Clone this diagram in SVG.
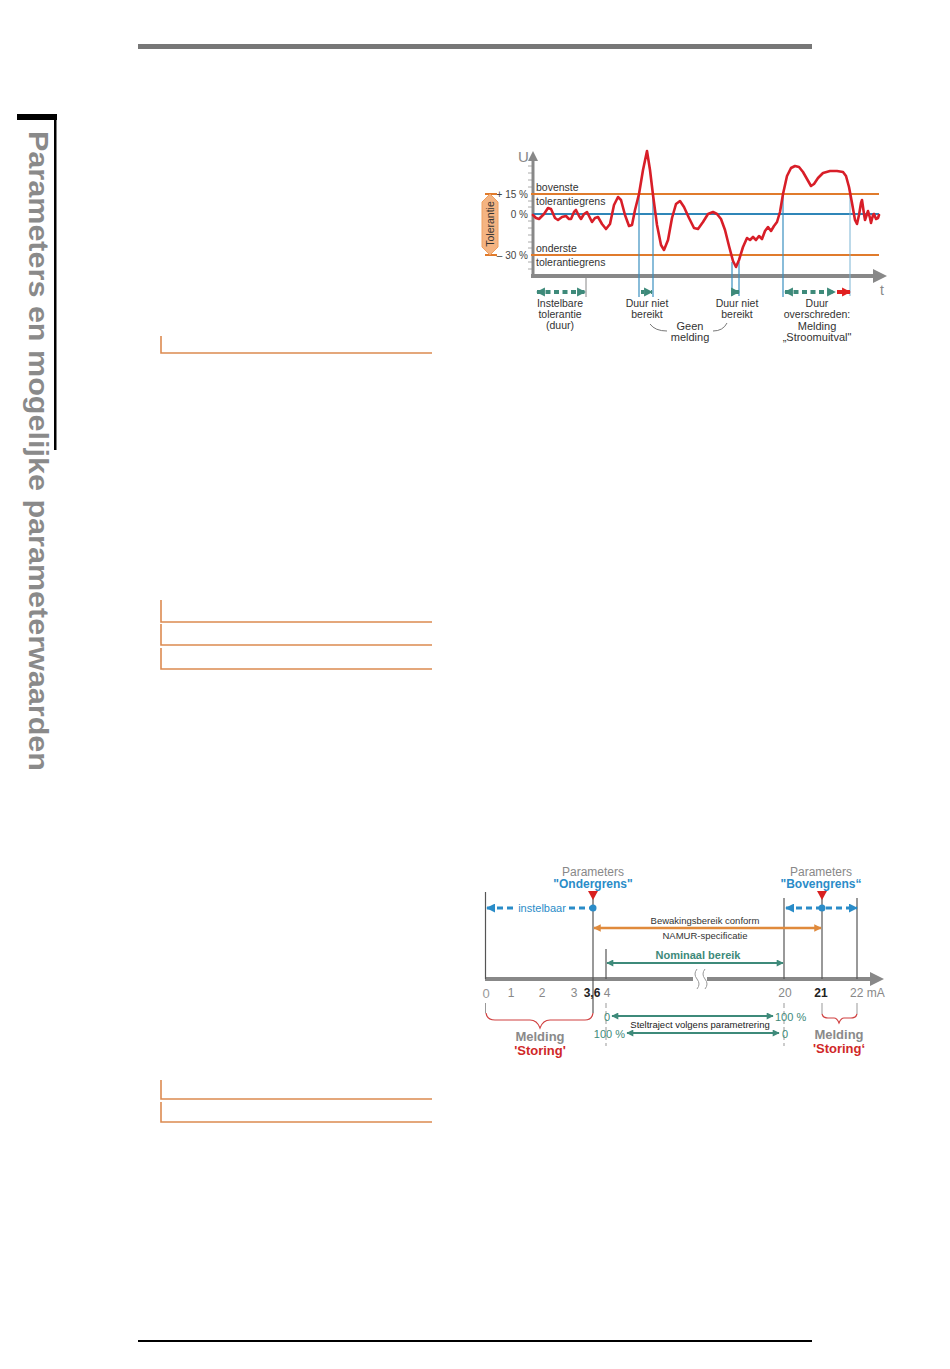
<svg xmlns="http://www.w3.org/2000/svg" width="950" height="1369" viewBox="0 0 950 1369">
<style>
text{font-family:"Liberation Sans",Arial,sans-serif}
.lbl{font-size:10.5px;fill:#333}
.axl{font-size:12px;fill:#888}
.ul{stroke:#dc8a50;stroke-width:1.6;fill:none}
.blv{stroke:#3a8fc0;stroke-width:1.2}
.grn{stroke:#3e8a7a;fill:none}
.blue{stroke:#2a8cc8;fill:none}
</style>
<defs>
<marker id="ag" viewBox="0 0 10 10" refX="9" refY="5" markerWidth="2.2" markerHeight="2.4" orient="auto-start-reverse"><path d="M0,0L10,5L0,10z" fill="#3e8a7a"/></marker>
<marker id="ag2" viewBox="0 0 10 10" refX="9" refY="5" markerWidth="4" markerHeight="3.5" orient="auto-start-reverse"><path d="M0,0L10,5L0,10z" fill="#3e8a7a"/></marker>
<marker id="ar" viewBox="0 0 10 10" refX="9" refY="5" markerWidth="2.2" markerHeight="2.4" orient="auto"><path d="M0,0L10,5L0,10z" fill="#e02020"/></marker>
<marker id="ab" viewBox="0 0 10 10" refX="9" refY="5" markerWidth="3" markerHeight="3" orient="auto-start-reverse"><path d="M0,0L10,5L0,10z" fill="#2a8cc8"/></marker>
<marker id="ao" viewBox="0 0 10 10" refX="9" refY="5" markerWidth="3.5" markerHeight="3" orient="auto-start-reverse"><path d="M0,0L10,5L0,10z" fill="#e08a3c"/></marker>
</defs>
<rect width="950" height="1369" fill="#fff"/>

<g id="page">
<rect x="138" y="44" width="674" height="5" fill="#777"/>
<rect x="138" y="1340" width="674" height="2" fill="#000"/>
<rect x="17" y="114" width="40" height="6" fill="#000"/>
<rect x="54" y="114" width="2.5" height="336" fill="#000"/>
<text transform="translate(29,131) rotate(90)" font-size="28" font-weight="bold" fill="#8a8a8a" textLength="640" lengthAdjust="spacingAndGlyphs">Parameters en mogelijke parameterwaarden</text>
</g>

<g id="underlines">
<path class="ul" d="M161,336V353H432"/>
<path class="ul" d="M161,600V622H432"/>
<path class="ul" d="M161,624V645H432"/>
<path class="ul" d="M161,648V669H432"/>
<path class="ul" d="M161,1080V1099H432"/>
<path class="ul" d="M161,1102V1122H432"/>
</g>

<g id="chart1">
<g id="c1-axes">
<g stroke="#aaa" stroke-width="1">
<path d="M528,166h5M528,173h5M528,180h5M528,187h5M528,201h5M528,207h5M528,221h5M528,228h5M528,235h5M528,242h5M528,248h5M528,262h5M528,269h5"/>
</g>
<line x1="533" y1="158" x2="533" y2="278" stroke="#888" stroke-width="3"/>
<path d="M533,151L538,161H528z" fill="#888"/>
<text x="518" y="162" font-size="15" fill="#888">U</text>
<line x1="531" y1="276" x2="876" y2="276" stroke="#888" stroke-width="4"/>
<path d="M887,276L873,269V283z" fill="#888"/>
<text x="880" y="295" font-size="14" fill="#888">t</text>
</g>
<g id="c1-levels">
<line x1="485" y1="194" x2="497" y2="194" stroke="#e07b2c" stroke-width="2"/>
<line x1="531" y1="194" x2="879" y2="194" stroke="#e07b2c" stroke-width="2"/>
<line x1="485" y1="255" x2="497" y2="255" stroke="#e07b2c" stroke-width="2"/>
<line x1="531" y1="255" x2="879" y2="255" stroke="#e07b2c" stroke-width="2"/>
<line x1="533" y1="214" x2="879" y2="214" stroke="#2f86b8" stroke-width="2"/>
<text x="528" y="198" font-size="10" fill="#444" text-anchor="end">+ 15 %</text>
<text x="528" y="218" font-size="10" fill="#444" text-anchor="end">0 %</text>
<text x="528" y="259" font-size="10" fill="#444" text-anchor="end">– 30 %</text>
<text x="536" y="191" class="lbl" fill="#111">bovenste</text>
<text x="536" y="205" class="lbl">tolerantiegrens</text>
<text x="536" y="252" class="lbl">onderste</text>
<text x="536" y="266" class="lbl">tolerantiegrens</text>
</g>
<g id="c1-tolerance">
<path d="M490,194L498,202V247L490,255L482,247V202z" fill="#f4b482" stroke="#f0a060" stroke-width="1" stroke-linejoin="round"/>
<text transform="translate(494,224) rotate(-90)" font-size="10.5" fill="#333" text-anchor="middle">Tolerantie</text>
</g>
<g id="c1-verticals">
<line class="blv" x1="639" y1="194" x2="639" y2="297"/>
<line class="blv" x1="653" y1="195" x2="653" y2="297"/>
<line class="blv" x1="732" y1="262" x2="732" y2="296"/>
<line class="blv" x1="739" y1="262" x2="739" y2="296"/>
<line class="blv" x1="783" y1="194" x2="783" y2="297"/>
<line x1="850" y1="193" x2="850" y2="296" stroke="#7ab4d4" stroke-width="1"/>
<line x1="586" y1="276" x2="586" y2="297" stroke="#888" stroke-width="1"/>
</g>
<polyline id="c1-signal" fill="none" stroke="#d81e28" stroke-width="2.6" stroke-linejoin="round" stroke-linecap="round" points="533,215 536,218 539,219 544,214 548,208 551,209 555,218 558,220 562,217 566,216 569,219 571,219 574,212 576,210 579,216 581,219 584,214 587,212 590,218 592,222 595,218 598,217 602,224 606,229 610,224 614,205 618,197 621,200 625,215 629,226 632,225 635,210 639,194 643,170 647,151 650,170 653,195 657,225 661,245 664,250 668,240 672,218 676,204 680,201 684,207 689,218 694,228 698,229 703,222 708,214 713,212 717,214 721,219 725,230 729,246 733,261 736,267 739,260 743,247 747,238 750,240 753,237 756,240 759,236 762,239 765,231 768,227 771,231 774,226 777,222 780,212 783,194 787,176 791,168 795,166 799,167 803,172 807,179 811,186 814,184 818,178 823,173 830,171 837,171 843,172 846,176 849,187 852,203 855,220 857,224 859,215 861,203 862,200 864,214 865,220 866,217 868,211 870,218 871,223 873,215 874,214 876,219 878,218 879,215"/>
<g id="c1-arrows">
<line class="grn" x1="537" y1="292" x2="585" y2="292" stroke-width="4" stroke-dasharray="5,3.5" marker-start="url(#ag)" marker-end="url(#ag)"/>
<line class="grn" x1="641" y1="292" x2="652" y2="292" stroke-width="4" stroke-dasharray="3,2" marker-end="url(#ag)"/>
<line class="grn" x1="733" y1="292" x2="739" y2="292" stroke-width="4" marker-end="url(#ag)"/>
<line class="grn" x1="785" y1="292" x2="835" y2="292" stroke-width="4" stroke-dasharray="5,3.5" marker-start="url(#ag)" marker-end="url(#ag)"/>
<line x1="837" y1="292" x2="850" y2="292" stroke="#e02020" stroke-width="4" marker-end="url(#ar)"/>
</g>
<g id="c1-labels" text-anchor="middle">
<text x="560" y="307" class="lbl">Instelbare</text>
<text x="560" y="318" class="lbl">tolerantie</text>
<text x="560" y="329" class="lbl">(duur)</text>
<text x="647" y="307" class="lbl">Duur niet</text>
<text x="647" y="318" class="lbl">bereikt</text>
<text x="737" y="307" class="lbl">Duur niet</text>
<text x="737" y="318" class="lbl">bereikt</text>
<text x="690" y="330" font-size="11" fill="#333">Geen</text>
<text x="690" y="341" font-size="11" fill="#333">melding</text>
<text x="817" y="307" class="lbl">Duur</text>
<text x="817" y="318" class="lbl">overschreden:</text>
<text x="817" y="330" font-size="11" fill="#333">Melding</text>
<text x="817" y="341" font-size="11" fill="#333">„Stroomuitval"</text>
<path d="M650,324Q655,331 667,331M713,331Q723,331 727,323" fill="none" stroke="#555" stroke-width="0.8"/>
</g>
</g>

<g id="chart2">
<g id="c2-axis">
<line x1="485" y1="979" x2="872" y2="979" stroke="#888" stroke-width="4"/>
<path d="M884,979L870,972V986z" fill="#888"/>
<rect x="693" y="975" width="14" height="8" fill="#fff"/>
<path d="M697,969q-4,5 0,10t0,10M705,969q-4,5 0,10t0,10" fill="none" stroke="#999" stroke-width="1"/>
</g>
<g id="c2-verticals" stroke="#555" stroke-width="1.2">
<line x1="485.5" y1="892" x2="485.5" y2="979"/>
<line x1="593" y1="893" x2="593" y2="1013"/>
<line x1="606" y1="949" x2="606" y2="979"/>
<line x1="784" y1="898" x2="784" y2="979"/>
<line x1="822" y1="895" x2="822" y2="979"/>
<line x1="857" y1="898" x2="857" y2="979"/>
</g>
<g id="c2-ticks" stroke="#999" stroke-width="1">
<line x1="485.5" y1="1003" x2="485.5" y2="1013"/>
<line x1="822" y1="1003" x2="822" y2="1014"/>
<line x1="857" y1="1003" x2="857" y2="1014"/>
<line x1="606" y1="1003" x2="606" y2="1046" stroke-dasharray="5,3"/>
<line x1="784" y1="1003" x2="784" y2="1046" stroke-dasharray="5,3"/>
</g>
<g id="c2-markers">
<path d="M588,891H598L593,900z" fill="#d82020"/>
<path d="M817,891H827L822,900z" fill="#d82020"/>
</g>
<g id="c2-params" text-anchor="middle">
<text x="593" y="876" font-size="12" fill="#888">Parameters</text>
<text x="593" y="888" font-size="12" font-weight="bold" fill="#2a8cc8">"Ondergrens"</text>
<text x="821" y="876" font-size="12" fill="#888">Parameters</text>
<text x="821" y="888" font-size="12" font-weight="bold" fill="#2a8cc8">"Bovengrens“</text>
</g>
<g id="c2-instelbaar">
<line class="blue" x1="487" y1="908" x2="516" y2="908" stroke-width="3" stroke-dasharray="6,4" marker-start="url(#ab)"/>
<text x="542" y="912" font-size="11" fill="#2a8cc8" text-anchor="middle">instelbaar</text>
<line class="blue" x1="569" y1="908" x2="591" y2="908" stroke-width="3" stroke-dasharray="6,4"/>
<circle cx="593" cy="908" r="3.5" fill="#2a8cc8"/>
<line class="blue" x1="786" y1="908" x2="857" y2="908" stroke-width="3" stroke-dasharray="6,4" marker-start="url(#ab)" marker-end="url(#ab)"/>
<circle cx="822" cy="908" r="3.5" fill="#2a8cc8"/>
</g>
<g id="c2-namur">
<line x1="594" y1="928" x2="821" y2="928" stroke="#e08a3c" stroke-width="2.5" marker-start="url(#ao)" marker-end="url(#ao)"/>
<text x="705" y="924" font-size="9.5" fill="#333" text-anchor="middle">Bewakingsbereik conform</text>
<text x="705" y="939" font-size="9.5" fill="#333" text-anchor="middle">NAMUR-specificatie</text>
</g>
<g id="c2-nominaal">
<line class="grn" x1="607" y1="963" x2="783" y2="963" stroke-width="2" marker-start="url(#ag2)" marker-end="url(#ag2)"/>
<text x="698" y="959" font-size="11" font-weight="bold" fill="#3e8a7a" text-anchor="middle">Nominaal bereik</text>
</g>
<g id="c2-scale" text-anchor="middle">
<text x="486" y="998" font-size="13" fill="#999">0</text>
<text x="511" y="997" class="axl">1</text>
<text x="542" y="997" class="axl">2</text>
<text x="574" y="997" class="axl">3</text>
<text x="592" y="997" font-size="12" font-weight="bold" fill="#222">3,6</text>
<text x="607" y="997" class="axl">4</text>
<text x="785" y="997" class="axl">20</text>
<text x="821" y="997" font-size="12" font-weight="bold" fill="#222">21</text>
<text x="850" y="997" class="axl" text-anchor="start">22 mA</text>
</g>
<g id="c2-stelltraject">
<text x="607" y="1021" font-size="11" fill="#3e8a7a" text-anchor="middle">0</text>
<line class="grn" x1="612" y1="1016" x2="773" y2="1016" stroke-width="2" marker-start="url(#ag2)" marker-end="url(#ag2)"/>
<text x="775" y="1021" font-size="11" fill="#3e8a7a">100 %</text>
<text x="625" y="1038" font-size="11" fill="#3e8a7a" text-anchor="end">100 %</text>
<line class="grn" x1="627" y1="1033" x2="779" y2="1033" stroke-width="2" marker-start="url(#ag2)" marker-end="url(#ag2)"/>
<text x="785" y="1038" font-size="11" fill="#3e8a7a" text-anchor="middle">0</text>
<text x="700" y="1028" font-size="9.5" fill="#222" text-anchor="middle">Steltraject volgens parametrering</text>
</g>
<g id="c2-melding">
<path d="M486,1013Q487,1020 495,1020H530Q537,1020 540,1028Q543,1020 550,1020H585Q592,1020 593,1013" fill="none" stroke="#d04040" stroke-width="1.2"/>
<path d="M822,1014Q823,1018 828,1018H834Q837,1018 839,1023Q841,1018 844,1018H851Q856,1018 857,1014" fill="none" stroke="#d04040" stroke-width="1.2"/>
<text x="540" y="1041" font-size="13" font-weight="bold" fill="#8a8a8a" text-anchor="middle">Melding</text>
<text x="540" y="1055" font-size="13" font-weight="bold" fill="#d02828" text-anchor="middle">'Storing'</text>
<text x="839" y="1039" font-size="13" font-weight="bold" fill="#8a8a8a" text-anchor="middle">Melding</text>
<text x="839" y="1053" font-size="13" font-weight="bold" fill="#d02828" text-anchor="middle">'Storing‘</text>
</g>
</g>
</svg>
